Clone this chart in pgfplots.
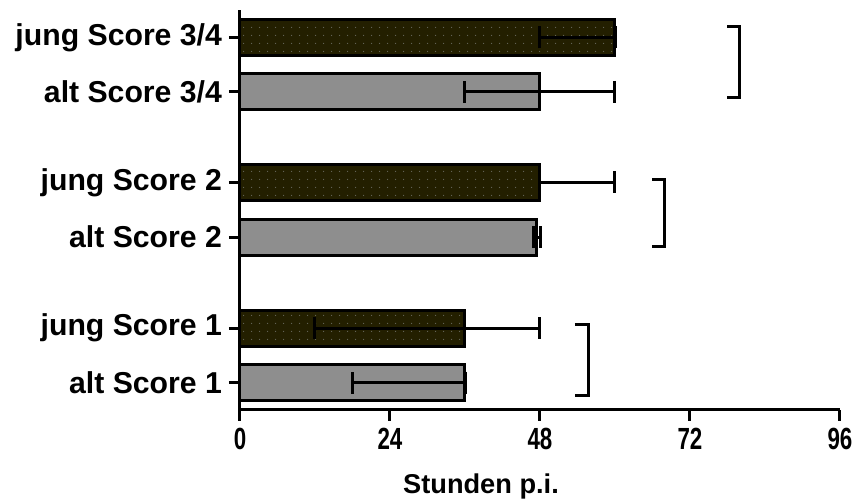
\documentclass[border=0pt]{standalone}
\usepackage{fontspec}
\setmainfont{Liberation Sans}
\newfontfamily\narrowsans[FakeStretch=0.73]{Liberation Sans}
\usepackage{pgfplots}
\pgfplotsset{compat=1.18}
\usetikzlibrary{calc,patterns}

\definecolor{jungfill}{RGB}{35,31,0}
\definecolor{altfill}{RGB}{142,142,142}
\definecolor{dotgray}{RGB}{105,105,95}

% sparse dot raster laid over the dark bars
\pgfdeclarepatternformonly{sparsedots}{\pgfpointorigin}{\pgfpoint{4pt}{4pt}}{\pgfpoint{4pt}{4pt}}%
  {\pgfpathcircle{\pgfpoint{2pt}{2pt}}{0.35pt}\pgfusepath{fill}}

% position on the category axis, bar value, upper and lower error
% (one-sided bars keep a vanishing error on the hidden side)
\pgfplotstableread{
pos  val  eplus eminus
1    36   12    24
3.67 48   12    0.01
6.33 60   0.01  12
}\jungdata
\pgfplotstableread{
pos  val  eplus eminus
0    36   0.01  18
2.67 47.5 0.6   0.6
5.33 48   12    12
}\altdata

\pgfplotsset{
  errstyle/.style={
    error bars/x dir=both,
    error bars/x explicit,
    error bars/error mark=|,
    error bars/error bar style={line width=1.5pt, black},
    error bars/error mark options={line width=1.5pt, black, mark size=5.5pt},
  },
}

\begin{document}
\begin{tikzpicture}
\begin{axis}[
  name=ax,
  scale only axis, width=300pt, height=200pt,
  xmin=0, xmax=96, ymin=-0.5, ymax=6.83,
  axis x line=bottom, axis y line=left,
  axis line style={line width=1.5pt, -},
  xtick={0,24,48,72,96},
  ytick={0,1,2.67,3.67,5.33,6.33},
  yticklabels={alt Score 1, jung Score 1, alt Score 2, jung Score 2, alt Score 3/4, jung Score 3/4},
  tick align=outside, major tick length=5.5pt,
  tick style={line width=1.5pt, black},
  minor tick num=0,
  /pgf/number format/assume math mode=true,
  xticklabel style={font=\narrowsans\bfseries\fontsize{15.3}{16}\selectfont},
  yticklabel style={font=\bfseries\fontsize{15.1}{16}\selectfont},
  xlabel={Stunden p.i.},
  xlabel style={font=\bfseries\fontsize{13.6}{15}\selectfont, xshift=-29.5pt, yshift=-5pt},
  xbar, bar width=18pt, bar shift=0pt,
  clip=false,
]
\addplot[draw=black, line width=1.5pt, fill=altfill, errstyle]
  table[x=val, y=pos, x error plus=eplus, x error minus=eminus] {\altdata};
\addplot[draw=black, line width=1.5pt, fill=jungfill, errstyle,
  postaction={pattern=sparsedots, pattern color=dotgray}]
  table[x=val, y=pos, x error plus=eplus, x error minus=eminus] {\jungdata};

% brackets joining each jung/alt pair
\draw[line width=1.5pt, black] (axis cs:78,6.52) -| (axis cs:80,5.22) -- (axis cs:78,5.22);
\draw[line width=1.5pt, black] (axis cs:66,3.73) -| (axis cs:68,2.49) -- (axis cs:66,2.49);
\draw[line width=1.5pt, black] (axis cs:53.6,1.06) -| (axis cs:55.7,-0.23) -- (axis cs:53.6,-0.23);
\end{axis}
\pgfresetboundingbox
\path[use as bounding box] ($(ax.south west)+(-120pt,-46.5pt)$) rectangle ($(ax.south west)+(309pt,205pt)$);
\end{tikzpicture}
\end{document}
